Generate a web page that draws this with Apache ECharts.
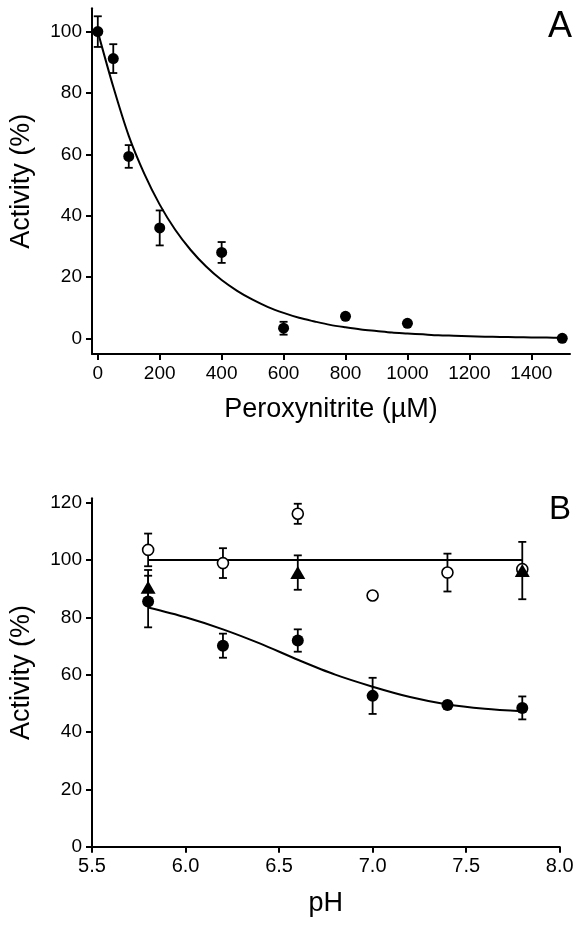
<!DOCTYPE html>
<html>
<head>
<meta charset="utf-8">
<script src="https://cdn.jsdelivr.net/npm/echarts@6/dist/echarts.min.js"></script>
<style>html,body{margin:0;padding:0;background:#fff}#c{width:583px;height:930px}</style>
</head>
<body>
<div id="c"></div>
<script>
// ---- Panel A data ----
const peroxX = [0, 50, 100, 200, 400, 600, 800, 1000, 1500];
const peroxY = [100, 91.2, 59.3, 36.0, 28.0, 3.3, 7.2, 4.9, 0];
const peroxErr = [5, 4.7, 3.7, 5.7, 3.4, 2.1, 0, 0, 0];
// fitted curve, every 50 µM
const fitAX = [0, 50, 100, 150, 200, 250, 300, 350, 400, 450, 500, 550, 600, 650, 700, 750,
               800, 850, 900, 950, 1000, 1050, 1100, 1150, 1200, 1250, 1300, 1350, 1400, 1450, 1500];
const fitAY = [100, 82, 66, 53.7, 43.6, 35.4, 28.8, 23.4, 19.0, 15.5, 12.6, 10.2, 8.3, 6.7, 5.5, 4.4,
               3.6, 2.9, 2.4, 1.9, 1.6, 1.3, 1.0, 0.85, 0.7, 0.55, 0.45, 0.37, 0.3, 0.25, 0.2];
const ticksAX = [0, 200, 400, 600, 800, 1000, 1200, 1400];
const ticksAY = [0, 20, 40, 60, 80, 100];

// ---- Panel B data ----
const pH = [5.8, 6.2, 6.6, 7.0, 7.4, 7.8];
const filledB = [85.5, 70.1, 71.9, 52.6, 49.4, 48.4];
const filledErr = [9, 4.2, 3.9, 6.3, 1.2, 4];
const openB = [103.5, 98.9, 116.1, 87.6, 95.6, 96.8];
const openErr = [5.7, 5.2, 3.5, 0.8, 6.6, 0];
const triPH = [5.8, 6.6, 7.8];
const triB = [90.5, 95.6, 96.3];
const triErr = [6, 6, 10];
const fitBX = [5.8, 6.0, 6.2, 6.4, 6.6, 6.8, 7.0, 7.2, 7.4, 7.6, 7.8];
const fitBY = [83.4, 80, 75.8, 70.8, 65.2, 60, 55.8, 52.2, 49.6, 48.1, 47.2];
const ctrlX = [5.8, 7.8];
const ctrlY = [100, 100];
const ticksBY = [0, 20, 40, 60, 80, 100, 120];

const FONT = "'Liberation Sans', Arial, sans-serif";
const zip = (a, b, c) => a.map((v, i) => c ? [v, b[i], c[i]] : [v, b[i]]);

function errItem(params, api) {
  const x = api.value(0), y = api.value(1), e = api.value(2);
  if (!e) return null;
  const t = api.coord([x, y + e]), b = api.coord([x, y - e]);
  const cw = 4;
  const st = { stroke: '#000', lineWidth: 1.8 };
  return { type: 'group', children: [
    { type: 'line', shape: { x1: t[0], y1: t[1], x2: b[0], y2: b[1] }, style: st },
    { type: 'line', shape: { x1: t[0] - cw, y1: t[1], x2: t[0] + cw, y2: t[1] }, style: st },
    { type: 'line', shape: { x1: b[0] - cw, y1: b[1], x2: b[0] + cw, y2: b[1] }, style: st }
  ]};
}

const axisLine = { show: true, onZero: false, lineStyle: { color: '#000', width: 2 } };
const labelStyle = { color: '#000', fontFamily: FONT, fontSize: 19 };
const nameStyle = { color: '#000', fontFamily: FONT, fontSize: 27 };
const plain = v => String(v);

const option = {
  animation: false,
  backgroundColor: '#fff',
  graphic: [
    { type: 'text', left: 548, top: 9, style: { text: 'A', font: '36px ' + FONT, fill: '#000' } },
    { type: 'text', left: 549, top: 493, style: { text: 'B', font: '33px ' + FONT, fill: '#000' } }
  ],
  grid: [
    { left: 91.5, top: 8.3, width: 478.5, height: 345.7 },
    { left: 91.5, top: 498.3, width: 468.2, height: 348.4 }
  ],
  xAxis: [
    { type: 'value', gridIndex: 0, min: -18.7, max: 1525, name: 'Peroxynitrite (µM)',
      nameLocation: 'middle', nameGap: 42, nameTextStyle: nameStyle,
      axisLine: axisLine, splitLine: { show: false },
      axisTick: { show: true, length: 6, customValues: ticksAX, lineStyle: { color: '#000', width: 2 } },
      axisLabel: Object.assign({ customValues: ticksAX, margin: 10, formatter: plain }, labelStyle) },
    { type: 'value', gridIndex: 1, min: 5.5, max: 8.0, interval: 0.5, name: 'pH',
      nameLocation: 'middle', nameGap: 43, nameTextStyle: nameStyle,
      axisLine: axisLine, splitLine: { show: false },
      axisTick: { show: true, length: 6, lineStyle: { color: '#000', width: 2 } },
      axisLabel: Object.assign({ margin: 10, formatter: v => v.toFixed(1) }, labelStyle, { fontSize: 20 }) }
  ],
  yAxis: [
    { type: 'value', gridIndex: 0, min: -5.1, max: 107.6, name: 'Activity (%)',
      nameLocation: 'middle', nameGap: 57, nameTextStyle: nameStyle,
      axisLine: axisLine, splitLine: { show: false },
      axisTick: { show: true, length: 6, customValues: ticksAY, lineStyle: { color: '#000', width: 2 } },
      axisLabel: Object.assign({ customValues: ticksAY, margin: 10, formatter: plain }, labelStyle) },
    { type: 'value', gridIndex: 1, min: 0, max: 121.5, name: 'Activity (%)',
      nameLocation: 'middle', nameGap: 57, nameTextStyle: nameStyle,
      axisLine: axisLine, splitLine: { show: false },
      axisTick: { show: true, length: 6, customValues: ticksBY, lineStyle: { color: '#000', width: 2 } },
      axisLabel: Object.assign({ customValues: ticksBY, margin: 10, formatter: plain }, labelStyle) }
  ],
  series: [
    // Panel A
    { type: 'line', xAxisIndex: 0, yAxisIndex: 0, data: zip(fitAX, fitAY), smooth: 0.3,
      showSymbol: false, lineStyle: { color: '#000', width: 2 }, z: 2 },
    { type: 'custom', xAxisIndex: 0, yAxisIndex: 0, data: zip(peroxX, peroxY, peroxErr),
      renderItem: errItem, encode: { x: 0, y: 1 }, z: 3 },
    { type: 'scatter', xAxisIndex: 0, yAxisIndex: 0, data: zip(peroxX, peroxY), symbol: 'circle',
      symbolSize: 11, itemStyle: { color: '#000', opacity: 1 }, z: 4 },
    // Panel B
    { type: 'line', xAxisIndex: 1, yAxisIndex: 1, data: zip(fitBX, fitBY), smooth: 0.3,
      showSymbol: false, lineStyle: { color: '#000', width: 2 }, z: 2 },
    { type: 'line', xAxisIndex: 1, yAxisIndex: 1, data: zip(ctrlX, ctrlY),
      showSymbol: false, lineStyle: { color: '#000', width: 2 }, z: 2 },
    { type: 'custom', xAxisIndex: 1, yAxisIndex: 1, data: zip(pH, openB, openErr),
      renderItem: errItem, encode: { x: 0, y: 1 }, z: 3 },
    { type: 'custom', xAxisIndex: 1, yAxisIndex: 1, data: zip(triPH, triB, triErr),
      renderItem: errItem, encode: { x: 0, y: 1 }, z: 3 },
    { type: 'custom', xAxisIndex: 1, yAxisIndex: 1, data: zip(pH, filledB, filledErr),
      renderItem: errItem, encode: { x: 0, y: 1 }, z: 3 },
    { type: 'scatter', xAxisIndex: 1, yAxisIndex: 1, data: zip(pH, openB), symbol: 'circle',
      symbolSize: 11, itemStyle: { color: '#fff', borderColor: '#000', borderWidth: 1.6, opacity: 1 }, z: 4 },
    { type: 'scatter', xAxisIndex: 1, yAxisIndex: 1, data: zip(triPH, triB), symbol: 'triangle',
      symbolSize: [15, 13], itemStyle: { color: '#000', opacity: 1 }, z: 5 },
    { type: 'scatter', xAxisIndex: 1, yAxisIndex: 1, data: zip(pH, filledB), symbol: 'circle',
      symbolSize: 12, itemStyle: { color: '#000', opacity: 1 }, z: 5 }
  ]
};
const chart = echarts.init(document.getElementById('c'), null, { renderer: 'canvas' });
chart.setOption(option);
</script>
</body>
</html>
